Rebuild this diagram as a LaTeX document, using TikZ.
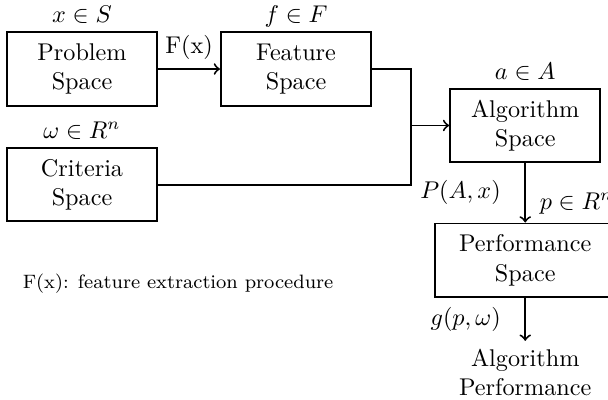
\documentclass[tikz,border=0pt]{standalone}
\usetikzlibrary{positioning}
\begin{document}
\begin{tikzpicture}[
  >=to,
  space/.style={rectangle, draw, thick, minimum width=2.18cm, minimum height=1.07cm, align=center},
  tag/.style={text depth=0pt},
  link/.style={->, thick},
  wire/.style={thick},
  note/.style={font=\footnotesize},
]
\useasboundingbox (-1.191,1.002) rectangle (7.638,-4.792);

\node[space, label={[tag]above:$x\in S$}] (prob) {Problem\\Space};
\node[space, right=0.9cm of prob, label={[tag]above:$f\in F$}] (feat) {Feature\\Space};
\node[space, below=0.58cm of prob, label={[tag]above:$\omega\in R^n$}] (crit) {Criteria\\Space};
\node[space, right=1.12cm of feat, yshift=-0.82cm, label={[tag]above:$a\in A$}] (alg) {Algorithm\\Space};
\node[space, minimum width=2.61cm, below=0.86cm of alg,
      label={[anchor=south west, xshift=2.5pt]north:$p\in R^n$}] (perf) {Performance\\Space};
\node[align=center, below=0.62cm of perf] (res) {Algorithm\\Performance};
\coordinate[left=0.55cm of alg] (join);
\node[note, below right=0.62cm and 0.12cm of crit.south west] (note) {F(x): feature extraction procedure};

\draw[link] (prob) -- node[above]{F(x)} (feat);
\draw[wire] (feat.east) -| (join);
\draw[wire] (crit.east) -| (join);
\draw[link] (join) -- (alg.west);
\draw[link] (alg) -- node[left=6.4pt]{$P(A,x)$} (perf);
\draw[link] (perf) -- node[left=6.4pt]{$g(p,\omega)$} (res);
\end{tikzpicture}
\end{document}
